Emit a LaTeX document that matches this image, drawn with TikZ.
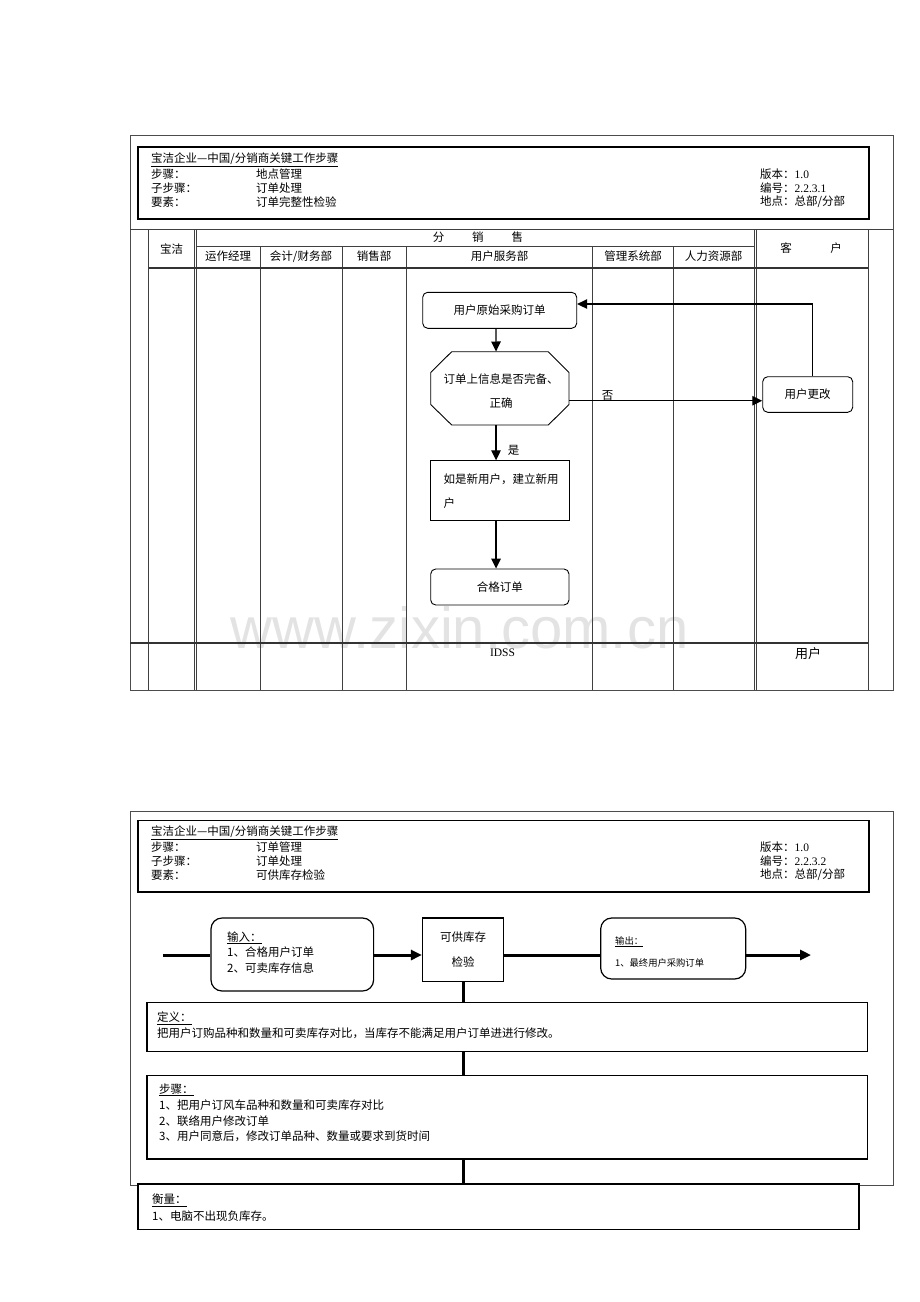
\documentclass[tikz,border=0pt]{standalone}
\usepackage{fontspec}
\setmainfont{Liberation Serif}
\newfontfamily\cjk{Noto Sans CJK SC}
\newfontfamily\wmfont{Liberation Sans}
\usetikzlibrary{arrows.meta,calc}
\newcommand\latn[1]{{\rmfamily #1}}
\begin{document}
\begin{tikzpicture}[x=1pt,y=-1pt,
  frame/.style={draw=black!70,line width=0.8pt},
  hdr/.style={draw=black,line width=1.4pt},
  grid/.style={draw=black!75,line width=0.8pt},
  heavy/.style={draw=black!80,line width=2pt},
  txt/.style={font=\cjk\fontsize{11.5}{14}\selectfont,inner sep=0pt},
  small/.style={font=\cjk\fontsize{9.3}{12}\selectfont,inner sep=0pt},
  wm/.style={font=\wmfont\fontsize{58}{60}\selectfont,text=black!11,inner sep=0pt},
  rbox/.style={draw=black,line width=0.9pt,rounded corners=5pt,inner sep=0pt},
  sbox/.style={draw=black,line width=0.9pt,inner sep=0pt},
  ghost/.style={inner sep=0pt},
  arr/.style={-{Triangle[length=10pt,width=9.5pt]},line width=1.3pt},
  tline/.style={line width=3pt},
  tarr/.style={-{Triangle[length=11pt,width=10pt]},line width=3pt},
  bbox/.style={draw=black,line width=1.2pt,inner sep=0pt},
  brbox/.style={draw=black,line width=1.2pt,rounded corners=11pt,inner sep=0pt}
]
\useasboundingbox (0,0) rectangle (920,1302);
\node[wm,anchor=base] (wmark) at (459.5,648.5) {www.zixin.com.cn};

%% ---------------- top diagram ----------------
\draw[frame] (130,135) rectangle (893,690);
\draw[hdr] (138,147) rectangle (869,219);
\node[txt,anchor=west] (ta) at (151,160) {\underline{宝洁企业—中国/分销商关键工作步骤}};
\node[txt,anchor=west] (tb1) at (151,174) {步骤：};
\node[txt,anchor=west] (tb2) at (256,174) {地点管理};
\node[txt,anchor=west] (tb3) at (760,174) {版本：\latn{1.0}};
\node[txt,anchor=west] (tc1) at (151,188) {子步骤：};
\node[txt,anchor=west] (tc2) at (256,188) {订单处理};
\node[txt,anchor=west] (tc3) at (760,188) {编号：\latn{2.2.3.1}};
\node[txt,anchor=west] (td1) at (151,202) {要素：};
\node[txt,anchor=west] (td2) at (256,202) {订单完整性检验};
\node[txt,anchor=west] (td3) at (760,202) {地点：总部/分部};

% table grid
\draw[grid] (130,229.5) -- (893,229.5);
\foreach \x in {148.5,194.7,196.5,754,756,868}{\draw[grid] (\x,229.5) -- (\x,690);}
\foreach \x in {260,342,406.5,592.5,673.5}{\draw[grid] (\x,246) -- (\x,690);}
\draw[grid] (196.5,246) -- (754,246);
\draw[heavy] (148.5,267.5) -- (868,267.5);
\draw[heavy] (130,643) -- (868,643);

% headers
\node[txt] (hbj) at (171.6,249) {宝洁};
\node[txt] (hfx) at (478,237.5) {分\hspace{28pt}销\hspace{28pt}售};
\node[txt] (h1) at (228.2,256.5) {运作经理};
\node[txt] (h2) at (301,256.5) {会计/财务部};
\node[txt] (h3) at (374.2,256.5) {销售部};
\node[txt] (h4) at (499.5,256.5) {用户服务部};
\node[txt] (h5) at (633,256.5) {管理系统部};
\node[txt] (h6) at (713.7,256.5) {人力资源部};
\node[txt] (hk1) at (786,248) {客};
\node[txt] (hk2) at (836,248) {户};
\node[font=\rmfamily\fontsize{11.5}{14}\selectfont,inner sep=0pt] (idss) at (502.5,652.5) {IDSS};
\node[font=\cjk\fontsize{13}{15}\selectfont,inner sep=0pt] (yh) at (808,653.5) {用户};

% flowchart
\node[rbox,txt,minimum width=154pt,minimum height=36pt] (n1) at (499.7,310.3) {用户原始采购订单};
\node[ghost,minimum width=138.3pt,minimum height=73.3pt] (n2) at (499.85,388.35) {};
\draw[line width=0.9pt] (451.7,351.7) -- (548.3,351.7) -- (569,372.5) -- (569,404.5) -- (548.3,425) -- (451.7,425) -- (430.7,404.5) -- (430.7,372.5) -- cycle;
\node[txt,align=center,font=\cjk\fontsize{11.5}{24}\selectfont] (n2t) at (501,391.5) {订单上信息是否完备、\\正确};
\node[rbox,txt,minimum width=90pt,minimum height=35.6pt] (n3) at (807.7,394.5) {用户更改};
\node[sbox,minimum width=138.3pt,minimum height=60pt] (n4) at (499.85,490.7) {};
\node[txt,anchor=west] (n4a) at (443.3,479) {如是新用户，建立新用};
\node[txt,anchor=west] (n4b) at (443.3,503) {户};
\node[rbox,txt,minimum width=138.3pt,minimum height=36pt] (n5) at (499.85,587) {合格订单};

\draw[arr] ([xshift=-3.8pt]n1.south) -- ([xshift=-3.8pt]n2.north);
\draw[arr] ([xshift=-3.8pt]n2.south) -- ([xshift=-3.8pt]n4.north);
\draw[arr] ([xshift=-3.8pt]n4.south) -- ([xshift=-3.8pt]n5.north);
\draw[arr] ([yshift=-12.4pt]n2.east) -- ([yshift=-12.4pt]n2.east -| n3.west);
\draw[arr] ([xshift=4.6pt]n3.north) |- ([yshift=6.3pt]n1.east);
\node[txt] (lno) at (607.5,395) {否};
\node[txt] (lyes) at (513.5,450) {是};

%% ---------------- bottom diagram ----------------
\draw[frame] (130,811) rectangle (893,1185);
\draw[hdr] (138,820.5) rectangle (869,892);
\node[txt,anchor=west] (ua) at (151,833) {\underline{宝洁企业—中国/分销商关键工作步骤}};
\node[txt,anchor=west] (ub1) at (151,847) {步骤：};
\node[txt,anchor=west] (ub2) at (256,847) {订单管理};
\node[txt,anchor=west] (ub3) at (760,847) {版本：\latn{1.0}};
\node[txt,anchor=west] (uc1) at (151,861) {子步骤：};
\node[txt,anchor=west] (uc2) at (256,861) {订单处理};
\node[txt,anchor=west] (uc3) at (760,861) {编号：\latn{2.2.3.2}};
\node[txt,anchor=west] (ud1) at (151,875) {要素：};
\node[txt,anchor=west] (ud2) at (256,875) {可供库存检验};
\node[txt,anchor=west] (ud3) at (760,875) {地点：总部/分部};

\node[brbox,minimum width=162.6pt,minimum height=73pt] (inb) at (292.3,954.5) {};
\node[txt,anchor=west] (in1) at (227,937.7) {\underline{输入：}};
\node[txt,anchor=west] (in2) at (227,952) {1、合格用户订单};
\node[txt,anchor=west] (in3) at (227,968) {2、可卖库存信息};

\node[bbox,minimum width=81pt,minimum height=63.7pt] (proc) at (463,949.85) {};
\node[txt] (pr1) at (463,937) {可供库存};
\node[txt] (pr2) at (463,962) {检验};

\node[brbox,minimum width=145pt,minimum height=61pt] (outb) at (673.2,948.5) {};
\node[small,anchor=west] (ou1) at (615,941.7) {\underline{输出：}};
\node[small,anchor=west] (ou2) at (615,963) {1、最终用户采购订单};

\coordinate (cin) at (163,955);
\coordinate (cout) at (811,955);
\draw[tline] (cin) -- (cin -| inb.west);
\draw[tarr] (cin -| inb.east) -- (cin -| proc.west);
\draw[tline] (cin -| proc.east) -- (cin -| outb.west);
\draw[tarr] (cin -| outb.east) -- (cout);

\node[bbox,minimum width=720.7pt,minimum height=49pt] (def) at (507.35,1027.2) {};
\node[txt,anchor=west] (df1) at (157,1018.5) {\underline{定义：}};
\node[txt,anchor=west] (df2) at (157,1033) {把用户订购品种和数量和可卖库存对比，当库存不能满足用户订单进进行修改。};

\node[bbox,minimum width=720.7pt,minimum height=83.3pt] (stp) at (507.35,1117.35) {};
\node[txt,anchor=west] (st0) at (159,1090) {\underline{步骤：}};
\node[txt,anchor=west] (st1) at (159,1105.5) {1、把用户订风车品种和数量和可卖库存对比};
\node[txt,anchor=west] (st2) at (159,1121) {2、联络用户修改订单};
\node[txt,anchor=west] (st3) at (159,1136.7) {3、用户同意后，修改订单品种、数量或要求到货时间};

\node[bbox,fill=white,minimum width=721pt,minimum height=45.3pt] (meas) at (498.5,1206.65) {};
\node[txt,anchor=west] (ms0) at (152,1200) {\underline{衡量：}};
\node[txt,anchor=west] (ms1) at (152,1215.7) {1、电脑不出现负库存。};

\draw[tline] (proc.south) -- (proc.south |- def.north);
\draw[tline] (proc.south |- def.south) -- (proc.south |- stp.north);
\draw[tline] (proc.south |- stp.south) -- (proc.south |- meas.north);
\end{tikzpicture}
\end{document}
